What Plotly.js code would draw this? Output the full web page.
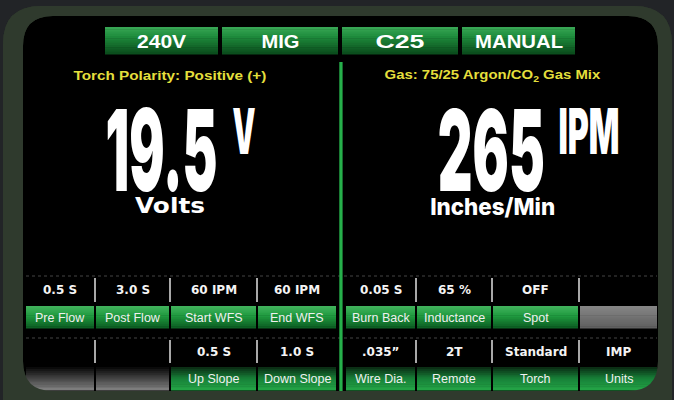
<!DOCTYPE html>
<html><head><meta charset="utf-8">
<script src="https://cdn.plot.ly/plotly-3.0.1.min.js"></script>
<style>html,body{margin:0;padding:0;background:#222427;overflow:hidden}#chart{width:674px;height:400px}</style>
</head><body><div id="chart"></div>
<script>
// ---- data ----
const modeButtons = ["240V", "MIG", "C25", "MANUAL"];
const polarityText = "Torch Polarity: Positive (+)";
const gasText = "Gas: 75/25 Argon/CO<sub>2</sub> Gas Mix";
const voltValue = "19.5";
const voltUnit = "V";
const voltLabel = "Volts";
const wfsValue = "265";
const wfsUnit = "IPM";
const wfsLabel = "Inches/Min";
const row1Values = ["0.5 S", "3.0 S", "60 IPM", "60 IPM", "0.05 S", "65 %", "OFF", ""];
const row1Labels = ["Pre Flow", "Post Flow", "Start WFS", "End WFS", "Burn Back", "Inductance", "Spot", ""];
const row2Values = ["", "", "0.5 S", "1.0 S", ".035\u201D", "2T", "Standard", "IMP"];
const row2Labels = ["", "", "Up Slope", "Down Slope", "Wire Dia.", "Remote", "Torch", "Units"];

// ---- layout geometry ----
const BEZEL = '#2f3a2d', OUTSIDE = '#222427';
const btnX = [[105,218],[222,338],[342,458],[462,575]];
const btnY = [27,54];
const btnTextW = [50,38,49,88];
const cellX = [[26,94],[96,169],[171,256],[258,336],[346,415],[417,491],[493,578],[580,657]];
const sepX = [95,170,257,416,492,579];
const rows = [
  {vals: row1Values, labs: row1Labels, valY:[277,303], labY:[306,328], sepY:[278,302], dotY:276,
   green:[[0,'#43b45e'],[0.45,'#1f9a3f'],[1,'#0c5c22']], gray:[[0,'#878787'],[1,'#5e5e5e']]},
  {vals: row2Values, labs: row2Labels, valY:[339,364], labY:[367,390], sepY:[340,363], dotY:338,
   green:[[0,'#0a2812'],[0.5,'#178038'],[1,'#24a546']], gray:[[0,'#050505'],[1,'#828282']]}
];

function hex(c){return [1,3,5].map(i=>parseInt(c.substr(i,2),16));}
function colAt(stops,t){
  for(let i=0;i<stops.length-1;i++){
    const [t0,c0]=stops[i],[t1,c1]=stops[i+1];
    if(t<=t1){const f=(t-t0)/(t1-t0||1);const a=hex(c0),b=hex(c1);
      return 'rgb('+a.map((v,k)=>Math.round(v+(b[k]-v)*f)).join(',')+')';}
  }
  return stops[stops.length-1][1];
}
const shapes=[];
function rect(x0,x1,y0,y1,fill,layer){shapes.push({type:'rect',xref:'x',yref:'y',x0,x1,y0,y1,fillcolor:fill,line:{width:0},layer:layer||'above'});}
function grad(x0,x1,y0,y1,stops,n){
  n=n||12;const h=(y1-y0)/n;
  for(let i=0;i<n;i++){rect(x0,x1,y0+i*h,y0+(i+1)*h+0.6,colAt(stops,(i+0.5)/n));}
}
function rr(x0,y0,x1,y1,r,rev){
  if(!rev) return `M${x0+r},${y0} L${x1-r},${y0} Q${x1},${y0} ${x1},${y0+r} L${x1},${y1-r} Q${x1},${y1} ${x1-r},${y1} L${x0+r},${y1} Q${x0},${y1} ${x0},${y1-r} L${x0},${y0+r} Q${x0},${y0} ${x0+r},${y0} Z`;
  return `M${x0+r},${y0} Q${x0},${y0} ${x0},${y0+r} L${x0},${y1-r} Q${x0},${y1} ${x0+r},${y1} L${x1-r},${y1} Q${x1},${y1} ${x1},${y1-r} L${x1},${y0+r} Q${x1},${y0} ${x1-r},${y0} Z`;
}
const SCR=[23,16,658,391,30], OUT=[3,6,672,440,38];
shapes.push({type:'path',xref:'x',yref:'y',path:rr(OUT[0],OUT[1],OUT[2],OUT[3],OUT[4]),fillcolor:BEZEL,line:{width:0},layer:'below'});
shapes.push({type:'path',xref:'x',yref:'y',path:rr(SCR[0],SCR[1],SCR[2],SCR[3],SCR[4]),fillcolor:'#000000',line:{width:0},layer:'below'});

// buttons
btnX.forEach(b=>{grad(b[0],b[1],btnY[0],btnY[1],[[0,'#3aa857'],[0.35,'#1e8c3c'],[1,'#0a4a1b']],12);});
// cells
rows.forEach(r=>{
  cellX.forEach((c,i)=>{
    if(r.labs[i]) grad(c[0],c[1],r.labY[0],r.labY[1],r.green,12);
    else grad(c[0],c[1],r.labY[0],r.labY[1],r.gray,12);
  });
  sepX.forEach(x=>shapes.push({type:'line',xref:'x',yref:'y',x0:x,x1:x,y0:r.sepY[0],y1:r.sepY[1],line:{color:'#a8a8a8',width:2}}));
  shapes.push({type:'line',xref:'x',yref:'y',x0:26,x1:657,y0:r.dotY,y1:r.dotY,line:{color:'#444444',width:1,dash:'dot'}});
});
// divider
shapes.push({type:'rect',xref:'x',yref:'y',x0:339.3,x1:342.6,y0:62,y1:392,fillcolor:'#26b04b',line:{width:0}});
// frame mask (bezel with hole)
shapes.push({type:'path',xref:'x',yref:'y',path:rr(OUT[0],OUT[1],OUT[2],OUT[3],OUT[4])+' '+rr(SCR[0],SCR[1],SCR[2],SCR[3],SCR[4],true),fillcolor:BEZEL,line:{width:0}});

// annotations
const ann=[], fit=[];
function txt(t,x,y,size,color,family,weight,w){
  if(w) fit.push({i:ann.length,w});
  ann.push({text:t,x,y,xref:'x',yref:'y',xanchor:'center',yanchor:'middle',showarrow:false,
    font:{size,color,family,weight:weight||400}});
}
const NARROW='Liberation Sans Narrow, Liberation Sans, Arial, sans-serif';
const HEAVY='Inter, Roboto, Liberation Sans, sans-serif';
modeButtons.forEach((t,i)=>txt(t,(btnX[i][0]+btnX[i][1])/2,41,18.5,'#ffffff',NARROW,700,btnTextW[i]));
txt(polarityText,170,75.5,12.5,'#e4df3c',NARROW,700,193);
txt(gasText,492,75.5,12.5,'#e4df3c',NARROW,700,216);
txt(voltValue,161,149.5,113,'#ffffff',HEAVY,900,112);
txt(voltUnit,243.5,130.5,63,'#ffffff',HEAVY,900,23);
txt(voltLabel,170,205,22,'#ffffff','DejaVu Sans, sans-serif',700,70);
txt(wfsValue,491.5,149.5,113,'#ffffff',HEAVY,900,107);
txt(wfsUnit,588.5,130.5,63,'#ffffff',HEAVY,900,61);
txt(wfsLabel,492.5,206,23.5,'#ffffff',HEAVY,800,125);
rows.forEach(r=>{
  cellX.forEach((c,i)=>{
    const cx=(c[0]+c[1])/2;
    if(r.vals[i]) txt(r.vals[i],cx,(r.valY[0]+r.valY[1])/2,12,'#f4f4f4','DejaVu Sans, sans-serif',700);
    if(r.labs[i]) txt(r.labs[i],cx,(r.labY[0]+r.labY[1])/2+0.5,12.5,'#f0f0f0','Liberation Sans, Arial, sans-serif',400);
  });
});

const layout={width:674,height:400,margin:{l:0,r:0,t:0,b:0},paper_bgcolor:OUTSIDE,plot_bgcolor:'rgba(0,0,0,0)',
  xaxis:{range:[0,674],visible:false,fixedrange:true},yaxis:{range:[400,0],visible:false,fixedrange:true},
  shapes,annotations:ann,showlegend:false};
Plotly.newPlot('chart',[],layout,{staticPlot:true,displayModeBar:false}).then(gd=>{
  fit.forEach(f=>{
    const t=gd.querySelector('.annotation[data-index="'+f.i+'"] text');
    if(!t) return;
    const b=t.getBBox(); if(!b.width) return;
    const cx=b.x+b.width/2, s=f.w/b.width;
    t.setAttribute('transform','translate('+cx+' 0) scale('+s+' 1) translate('+(-cx)+' 0)');
  });
});
</script></body></html>
